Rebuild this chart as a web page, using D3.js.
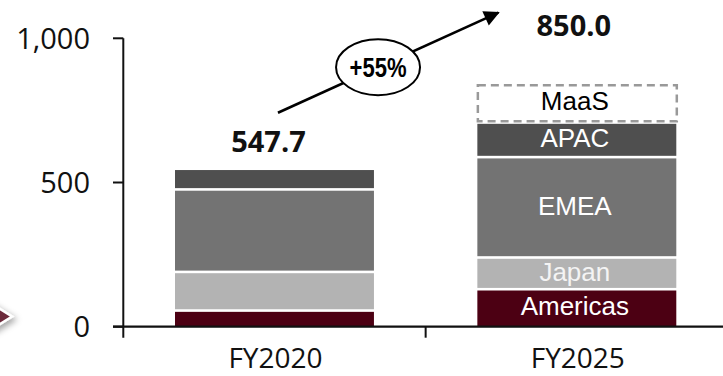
<!DOCTYPE html>
<html>
<head>
<meta charset="utf-8">
<script src="https://cdn.jsdelivr.net/npm/d3@7"></script>
<style>
  html, body { margin: 0; padding: 0; background: #fff; }
  svg { display: block; }
</style>
</head>
<body>
<svg id="chart" width="723" height="376"></svg>
<script>
// Revenue by region, FY2020 actual vs FY2025 target
const categories = ["FY2020", "FY2025"];
const regions = ["Americas", "Japan", "EMEA", "APAC", "MaaS"];
const americas = [56, 130];
const japan = [134, 110];
const emea = [286, 348];
const apac = [71.7, 120];
const maas = [0, 142];
const totals = [547.7, 850.0];
const yTicks = [0, 500, 1000];
const growthLabel = "+55%";

const colors = {
  Americas: "#4c0013",
  Japan: "#b3b3b3",
  EMEA: "#737373",
  APAC: "#4f4f4f",
  MaaS: "#ffffff"
};
const labelColors = {
  Americas: "#ffffff",
  Japan: "#f4f4f4",
  EMEA: "#ffffff",
  APAC: "#ffffff",
  MaaS: "#000000"
};

const rows = categories.map((c, i) => ({
  cat: c,
  Americas: americas[i],
  Japan: japan[i],
  EMEA: emea[i],
  APAC: apac[i],
  MaaS: maas[i]
}));

const svg = d3.select("#chart");

const x = d3.scaleBand()
  .domain(categories)
  .range([123.3, 728])
  .paddingInner(0.342)
  .paddingOuter(0.171);

const y = d3.scaleLinear().domain([0, 1000]).range([326.7, 38.3]);

const stack = d3.stack().keys(regions);
const series = stack(rows);

// decorative chevron on the left edge
const defs = svg.append("defs");
const shadow = defs.append("filter").attr("id", "shadow")
  .attr("x", "-50%").attr("y", "-50%").attr("width", "200%").attr("height", "200%");
shadow.append("feDropShadow")
  .attr("dx", 3).attr("dy", 3).attr("stdDeviation", 3)
  .attr("flood-color", "#000").attr("flood-opacity", 0.35);

svg.append("polygon")
  .attr("points", "-20,296.5 12,316.5 -20,336.5")
  .attr("fill", "#6c2a3a")
  .attr("stroke", "#ffffff")
  .attr("stroke-width", 2.5)
  .attr("filter", "url(#shadow)");

// stacked bars
const gap = 1.3;
const bw = x.bandwidth();
series.forEach(s => {
  const key = s.key;
  s.forEach((d, i) => {
    const v = d[1] - d[0];
    if (v <= 0) return;
    const cat = categories[i];
    const top = y(d[1]) + gap;
    const bottom = d[0] === 0 ? y(0) : y(d[0]) - gap;
    if (key === "MaaS") {
      svg.append("rect")
        .attr("x", x(cat) + 0.5)
        .attr("y", top + 2.5)
        .attr("width", bw)
        .attr("height", bottom - top - 2.5)
        .attr("fill", "#ffffff")
        .attr("stroke", "#999999")
        .attr("stroke-width", 2.5)
        .attr("stroke-dasharray", "8,5");
    } else {
      svg.append("rect")
        .attr("x", x(cat))
        .attr("y", top)
        .attr("width", bw)
        .attr("height", bottom - top)
        .attr("fill", colors[key]);
    }
  });
});

// segment labels on the FY2025 bar
series.forEach(s => {
  const d = s[1];
  const cat = categories[1];
  const mid = (y(d[0]) + y(d[1])) / 2;
  svg.append("text")
    .attr("x", x(cat) + bw / 2 - 2)
    .attr("y", mid + 7.5)
    .attr("text-anchor", "middle")
    .attr("font-family", "'Liberation Sans', Arial, sans-serif")
    .attr("font-size", 26)
    .attr("fill", labelColors[s.key])
    .text(s.key);
});

// axes
const axisColor = "#111111";
svg.append("line")
  .attr("x1", 113).attr("x2", 723)
  .attr("y1", y(0)).attr("y2", y(0))
  .attr("stroke", axisColor).attr("stroke-width", 2.2);
svg.append("line")
  .attr("x1", x.range()[0]).attr("x2", x.range()[0])
  .attr("y1", y(1000)).attr("y2", y(0) + 11)
  .attr("stroke", axisColor).attr("stroke-width", 2);
// boundary tick between categories
svg.append("line")
  .attr("x1", x(categories[1]) - x.step() * x.paddingInner() / 2)
  .attr("x2", x(categories[1]) - x.step() * x.paddingInner() / 2)
  .attr("y1", y(0)).attr("y2", y(0) + 11)
  .attr("stroke", axisColor).attr("stroke-width", 2);

const yAxis = svg.append("g");
yTicks.forEach(t => {
  yAxis.append("line")
    .attr("x1", 113).attr("x2", x.range()[0])
    .attr("y1", y(t)).attr("y2", y(t))
    .attr("stroke", axisColor).attr("stroke-width", 2);
  yAxis.append("text")
    .attr("x", 90)
    .attr("y", y(t) + 10.5)
    .attr("text-anchor", "end")
    .attr("font-family", "'Open Sans', 'Noto Sans', sans-serif")
    .attr("font-size", 29)
    .attr("fill", "#111")
    .text(d3.format(",")(t));
});

categories.forEach(c => {
  svg.append("text")
    .attr("x", x(c) + bw / 2 + 1)
    .attr("y", 368)
    .attr("text-anchor", "middle")
    .attr("font-family", "'Open Sans', 'Noto Sans', sans-serif")
    .attr("font-size", 28)
    .attr("fill", "#111")
    .text(c);
});

// total labels
const totalDx = [-6, -3];
const totalDy = [-17, -45.5];
categories.forEach((c, i) => {
  svg.append("text")
    .attr("x", x(c) + bw / 2 + totalDx[i])
    .attr("y", y(totals[i]) + totalDy[i])
    .attr("text-anchor", "middle")
    .attr("font-family", "'Open Sans', 'Noto Sans', sans-serif")
    .attr("font-weight", "bold")
    .attr("font-size", 29)
    .attr("fill", "#111")
    .text(d3.format(".1f")(totals[i]));
});

// growth arrow with percentage bubble
const ax1 = x(categories[0]) + bw / 2 + 3.5, ay1 = y(totals[0]) - 56;
const ax2 = x(categories[1]) + 23, ay2 = y(totals[1]) - 70;
defs.append("marker")
  .attr("id", "head")
  .attr("viewBox", "0 0 10 10")
  .attr("refX", 9).attr("refY", 5)
  .attr("markerWidth", 7).attr("markerHeight", 6)
  .attr("markerUnits", "strokeWidth")
  .attr("orient", "auto")
  .append("path").attr("d", "M0,0 L10,5 L0,10 Z").attr("fill", "#000");

svg.append("line")
  .attr("x1", ax1).attr("y1", ay1)
  .attr("x2", ax2 - 2).attr("y2", ay2 + 1)
  .attr("stroke", "#000").attr("stroke-width", 2.6)
  .attr("marker-end", "url(#head)");

const ex = ax1 + (ax2 - ax1) * 0.45;
const ey = ay1 + (ay2 - ay1) * 0.45;
svg.append("ellipse")
  .attr("cx", ex).attr("cy", ey)
  .attr("rx", 42).attr("ry", 28)
  .attr("fill", "#fff").attr("stroke", "#000").attr("stroke-width", 2);
svg.append("text")
  .attr("x", ex).attr("y", ey + 9.5)
  .attr("text-anchor", "middle")
  .attr("font-family", "'Liberation Sans Narrow', 'Liberation Sans', Arial, sans-serif")
  .attr("font-weight", "bold")
  .attr("font-size", 27)
  .attr("textLength", 57)
  .attr("lengthAdjust", "spacingAndGlyphs")
  .attr("fill", "#000")
  .text(growthLabel);
</script>
</body>
</html>
